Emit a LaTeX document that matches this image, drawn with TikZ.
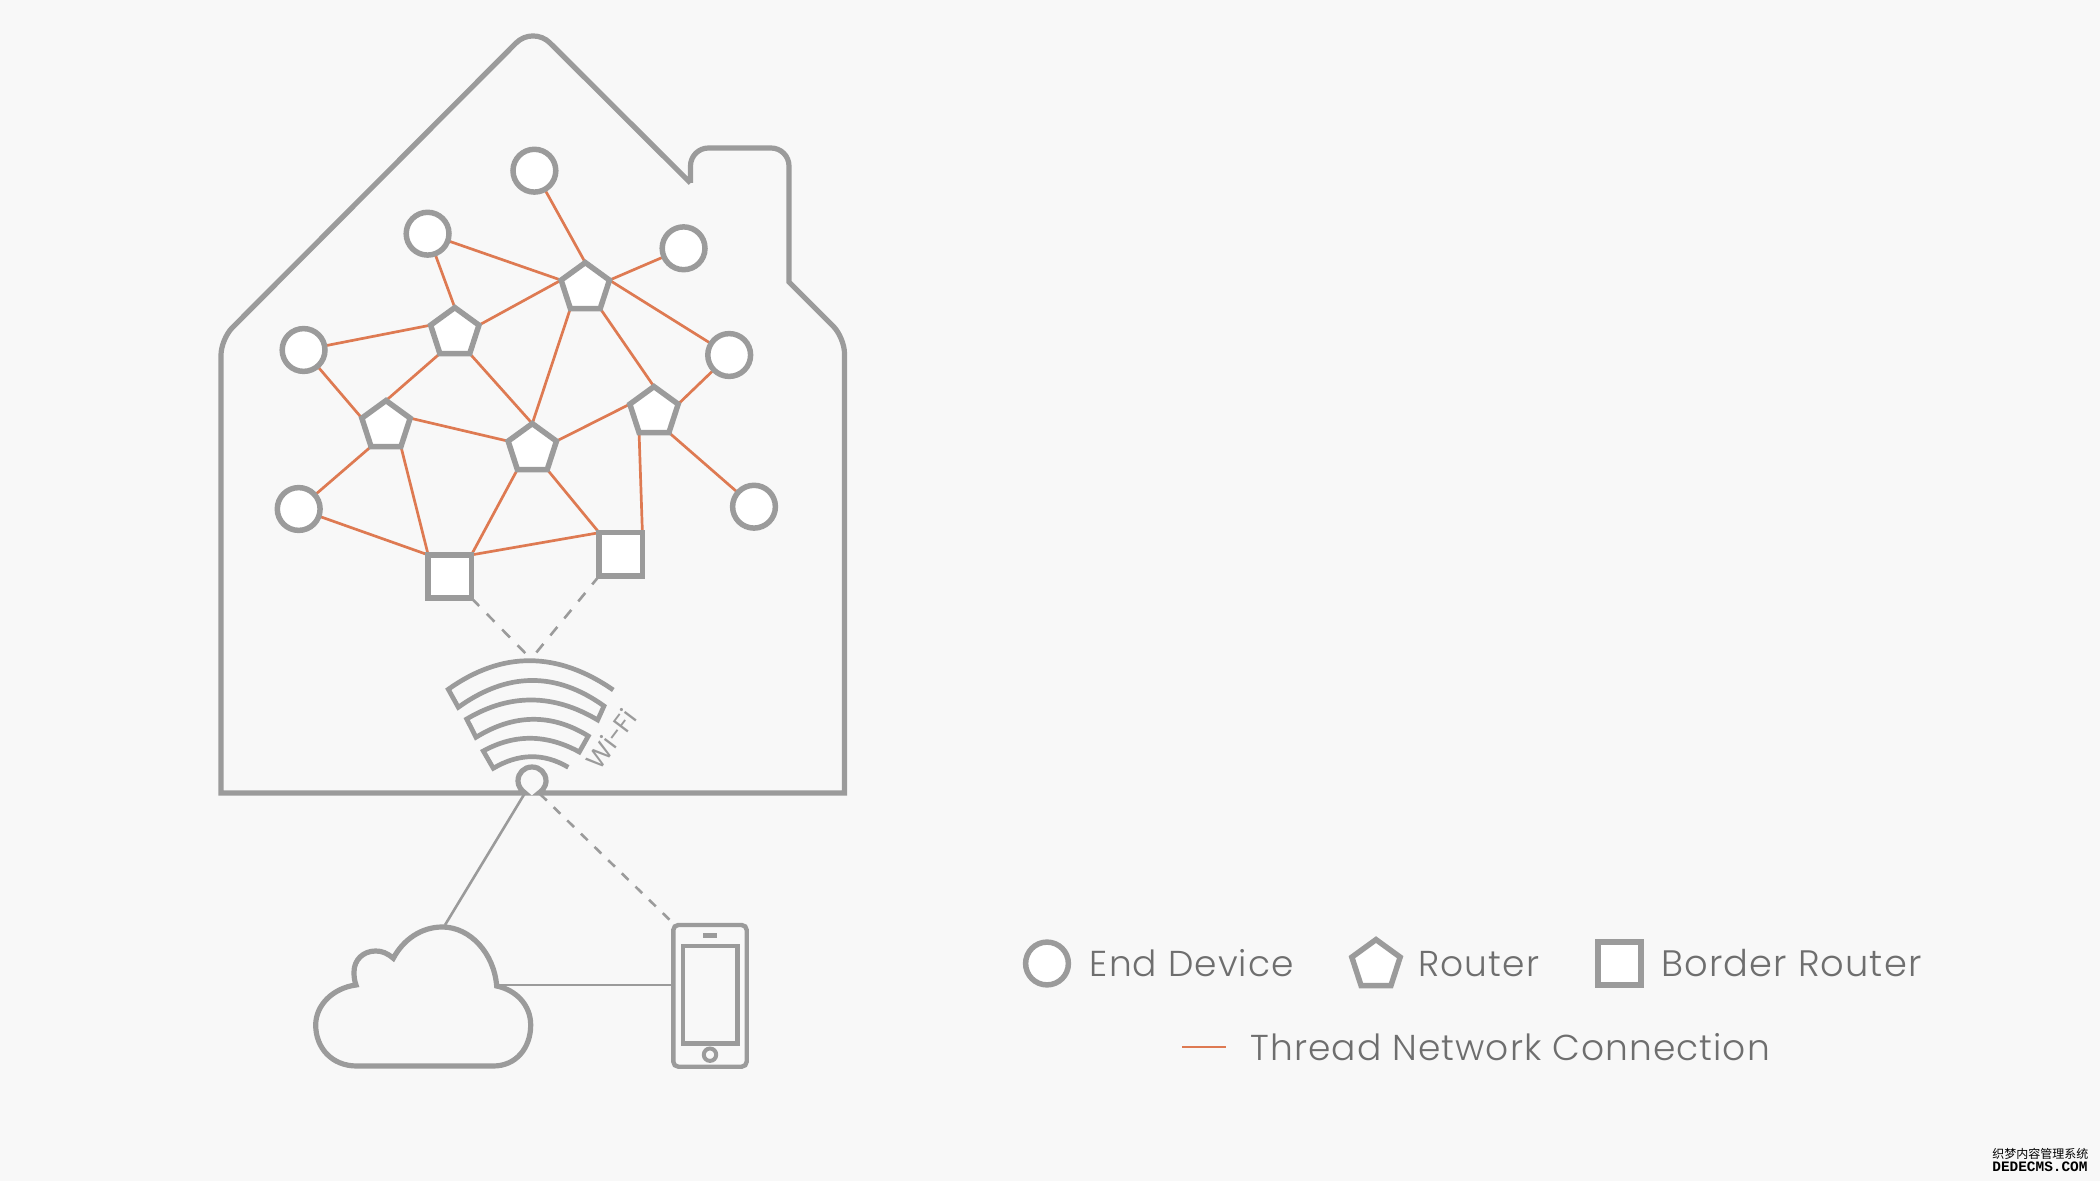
\documentclass[tikz,border=0pt]{standalone}
\usepackage{fontspec}
\setmainfont{Poppins Light}[LetterSpace=3]
\newfontfamily\wififont{Poppins}
\newfontfamily\cjkwm{Noto Sans CJK SC}
\newfontfamily\monowm{Liberation Mono}
\usetikzlibrary{shapes.geometric,backgrounds}
\definecolor{bgc}{HTML}{F8F8F8}
\definecolor{gr}{HTML}{9B9B9B}
\definecolor{or}{HTML}{DE7A52}
\definecolor{tx}{HTML}{6E6E6E}
\tikzset{
  x=0.5pt,y=-0.5pt,
  outline/.style={draw=gr,line width=2.6pt},
  thinline/.style={draw=gr,line width=1.3pt},
  dashline/.style={thinline,dash pattern=on 5.5pt off 5.5pt},
  link/.style={draw=or,line width=1.35pt},
  enddev/.style={circle,outline,line width=2.75pt,fill=white,inner sep=0pt,outer sep=0pt,minimum size=21.4pt},
  router/.style={regular polygon,regular polygon sides=5,outline,line width=2.75pt,fill=white,inner sep=0pt,outer sep=0pt,minimum size=25.4pt},
  border/.style={rectangle,outline,line width=2.75pt,fill=white,inner sep=0pt,outer sep=0pt,minimum size=21.6pt},
  legend/.style={anchor=base west,inner sep=0pt,text=tx,font=\fontsize{18}{21}\selectfont},
}
\begin{document}
\begin{tikzpicture}
\useasboundingbox (0,0) rectangle (2100,1181);
\begin{pgfonlayer}{background}
\fill[bgc] (0,0) rectangle (2100,1181);
\end{pgfonlayer}
% nodes
\node[enddev] (A) at (534.4,170.7) {};
\node[enddev] (B) at (427.6,233.7) {};
\node[enddev] (C) at (683.6,248.3) {};
\node[enddev] (D) at (303.6,350) {};
\node[enddev] (E) at (729.2,355) {};
\node[enddev] (F) at (298.7,509) {};
\node[enddev] (G) at (754,506.7) {};
\node[router] (P1) at (585.3,288) {};
\node[router] (P2) at (454.8,333) {};
\node[router] (P3) at (386,426) {};
\node[router] (P4) at (532.3,449) {};
\node[router] (P5) at (654,412) {};
\node[border] (S1) at (449.8,576.5) {};
\node[border] (S2) at (620.8,554.3) {};
% links
\begin{pgfonlayer}{background}
\draw[link] (A) -- (P1.corner 1);
\draw[link] (C) -- (P1.corner 5);
\draw[link] (E) -- (P1.corner 5);
\draw[link] (B) -- (P1.corner 2);
\draw[link] (P2.corner 5) -- (P1.corner 2);
\draw[link] (P4.corner 1) -- (P1.corner 3);
\draw[link] (P5.corner 1) -- (P1.corner 4);
\draw[link] (B) -- (P2.corner 1);
\draw[link] (D) -- (P2.corner 2);
\draw[link] (P3.corner 1) -- (P2.corner 3);
\draw[link] (P4.corner 1) -- (P2.corner 4);
\draw[link] (D) -- (P3.corner 2);
\draw[link] (P3.corner 5) -- (P4.corner 2);
\draw[link] (P4.corner 5) -- (P5.corner 2);
\draw[link] (E) -- (P5.corner 5);
\draw[link] (P5.corner 4) -- (G);
\draw[link] (P5.corner 3) -- (S2.north east);
\draw[link] (P4.corner 3) -- (S1.north east);
\draw[link] (P4.corner 4) -- (S2.north west);
\draw[link] (S1.north east) -- (S2.north west);
\draw[link] (P3.corner 3) -- (F);
\draw[link] (P3.corner 4) -- (S1.north west);
\draw[link] (F) -- (S1.north west);
\end{pgfonlayer}
% house
\draw[outline] (690.5,183) -- (690.5,165) [rounded corners=9pt] -- (690.5,148) -- (789,148) -- (789,200) [sharp corners] -- (789,282) [rounded corners=8pt] -- (844.5,337.5) -- (844.5,600) [sharp corners] -- (844.5,793) -- (539,793)
  .. controls (546,788) and (546,782) .. (546,781) .. controls (546,773) and (540,767) .. (532,767) .. controls (524,767) and (518,773) .. (518,781) .. controls (518,786) and (521,790) .. (525,793)
  -- (221,793) -- (221,500) [rounded corners=8pt] -- (221,339) [rounded corners=12pt] -- (533,26) -- (690.5,183);
% wifi
\coordinate (wifiTop) at (531,659);
\draw[outline,line width=2.35pt,line join=miter]
  (613.3,690) .. controls (557.2,651.2) and (502.2,650.9) .. (448.3,689.3)
  -- (458.3,707.3) .. controls (506.8,672.4) and (555.3,671.1) .. (604,706)
  -- (597.7,720) .. controls (554,694) and (510.4,693) .. (466.7,719)
  -- (476,737.3) .. controls (513.4,714.2) and (550.9,712.9) .. (588.3,736)
  -- (579.3,752) .. controls (547.3,734.4) and (515.3,733.4) .. (483.3,751)
  -- (493.3,768.3) .. controls (518.3,753.5) and (543.3,752.5) .. (568.3,767.3);
\node[rotate=53,text=gr,inner sep=0pt,font=\wififont\fontsize{13}{16}\selectfont] (wifiLabel) at (611,739) {Wi-Fi};
\draw[dashline] (S1.south east) -- (wifiTop);
\draw[dashline] (S2.south west) -- (wifiTop);
% cloud
\draw[outline] (356.7,1066) -- (493.3,1066) .. controls (516,1066) and (530.7,1048) .. (530.7,1025)
  .. controls (530.7,1005) and (516,990) .. (496.7,986)
  .. controls (494,953) and (470,927) .. (442.3,927)
  .. controls (421,927) and (403,940) .. (393.3,958.3)
  .. controls (387,953) and (382,951) .. (375.7,951)
  .. controls (363,951) and (354,960) .. (354,972)
  .. controls (354,977) and (354.5,981) .. (356,985)
  .. controls (333,988) and (315.7,1005) .. (315.7,1025)
  .. controls (315.7,1048) and (332,1066) .. (356.7,1066) -- cycle;
\coordinate (cloudTop) at (445,925);
\coordinate (cloudRight) at (499,985);
\coordinate (gwLeft) at (525,793);
\coordinate (gwRight) at (540,794);
% phone
\node[rectangle,rounded corners=2.5pt,outline,line width=2.2pt,inner sep=0pt,outer sep=0pt,minimum width=36.7pt,minimum height=70.85pt] (phone) at (710,995.85) {};
\node[rectangle,outline,line width=2.2pt,inner sep=0pt,outer sep=0pt,minimum width=27.3pt,minimum height=48.8pt] (screen) at (710,994.5) {};
\node[rectangle,fill=gr,inner sep=0pt,minimum width=7.3pt,minimum height=2.5pt] (speaker) at (710,935.8) {};
\node[circle,outline,line width=2pt,inner sep=0pt,outer sep=0pt,minimum size=6.2pt] (homekey) at (710,1054.7) {};
\coordinate (phoneCorner) at (675,925);
\coordinate (phoneSide) at (phone.west |- cloudRight);
\draw[thinline] (cloudTop) -- (gwLeft);
\draw[thinline] (cloudRight) -- (phoneSide);
\draw[dashline,dash pattern=on 4.7pt off 4.8pt] (gwRight) -- (phoneCorner);
% legend
\node[enddev] (legA) at (1047,963.5) {};
\node[router] (legB) at (1376,965) {};
\node[border] (legC) at (1619.5,963.5) {};
\node[legend] (legAt) at (1089.5,976) {End Device};
\node[legend] (legBt) at (1418,976) {Router};
\node[legend,font=\fontsize{18.4}{21}\selectfont] (legCt) at (1661,976) {Border Router};
\coordinate (lineL) at (1182,1047);
\coordinate (lineR) at (1226,1047);
\draw[link] (lineL) -- (lineR);
\node[legend] (legDt) at (1250,1060) {Thread Network Connection};
% watermark
\node[anchor=base west,inner sep=0pt,font=\cjkwm\fontsize{6}{6}\selectfont] (wm1) at (1992,1158) {织梦内容管理系统};
\node[anchor=base west,inner sep=0pt,font=\monowm\bfseries\fontsize{7.2}{7}\selectfont] (wm2) at (1992,1171) {DEDECMS.COM};
\end{tikzpicture}
\end{document}
